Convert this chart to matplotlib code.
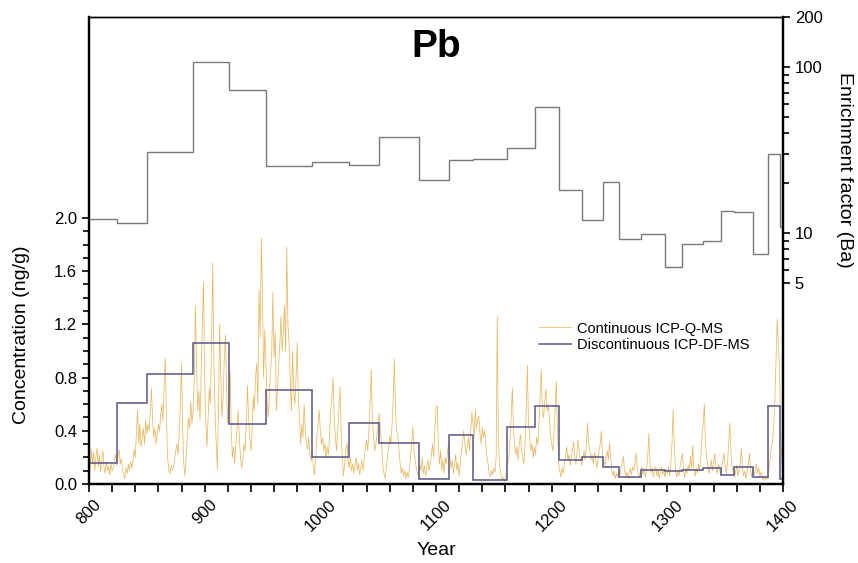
import numpy as np
import matplotlib
matplotlib.use("Agg")
from matplotlib import pyplot as plt
from matplotlib.ticker import FixedLocator, NullFormatter, FixedFormatter

plt.rcParams['font.family'] = ['Liberation Sans', 'DejaVu Sans']

# step boundaries (years) shared by the discrete samples
edges = [800, 824, 850, 890, 921, 953, 993, 1025, 1051, 1085, 1111, 1132, 1161,
         1186, 1206, 1226, 1244, 1258, 1277, 1298, 1313, 1331, 1346, 1358, 1374,
         1387, 1397, 1400]
# enrichment factor (Ba), right log axis
ef = [12.1, 11.5, 30.6, 107.7, 72.6, 25.4, 26.7, 25.8, 37.8, 20.7, 27.4, 27.9,
      32.4, 57.2, 18.2, 11.9, 20.3, 9.25, 9.8, 6.2, 8.6, 8.9, 13.6, 13.3, 7.5,
      29.8, 10.8]
# discontinuous ICP-DF-MS concentration (ng/g)
disc = [0.16, 0.61, 0.83, 1.06, 0.45, 0.71, 0.20, 0.46, 0.31, 0.037, 0.365, 0.03,
        0.43, 0.59, 0.177, 0.20, 0.125, 0.055, 0.105, 0.097, 0.105, 0.12, 0.067,
        0.125, 0.05, 0.59, 0.037]

# continuous ICP-Q-MS concentration, one value per year 800..1400
cont = [
    0.22, 0.12, 0.26, 0.15, 0.24, 0.10, 0.20, 0.27, 0.13, 0.22,
    0.09, 0.18, 0.25, 0.12, 0.08, 0.17, 0.10, 0.13, 0.07, 0.15,
    0.10, 0.12, 0.18, 0.22, 0.14, 0.20, 0.26, 0.15, 0.19, 0.10,
    0.07, 0.04, 0.12, 0.08, 0.15, 0.10, 0.17, 0.12, 0.18, 0.26,
    0.20, 0.38, 0.56, 0.30, 0.45, 0.28, 0.35, 0.42, 0.30, 0.48,
    0.38, 0.45, 0.40, 0.55, 0.72, 0.48, 0.35, 0.42, 0.30, 0.38,
    0.45, 0.40, 0.52, 0.60, 0.48, 0.75, 0.95, 0.50, 0.20, 0.10,
    0.08, 0.14, 0.10, 0.12, 0.18, 0.25, 0.30, 0.22, 0.38, 0.60,
    0.91, 0.40, 0.15, 0.06, 0.20, 0.35, 0.50, 0.42, 0.62, 0.45,
    0.55, 0.80, 1.34, 0.90, 0.55, 0.70, 0.48, 0.85, 1.20, 1.52,
    0.80, 0.45, 0.28, 0.50, 0.72, 0.60, 1.10, 1.66, 0.90, 0.55,
    0.30, 0.11, 0.60, 1.20, 0.80, 0.50, 0.65, 0.95, 1.12, 0.70,
    0.45, 0.60, 0.86, 0.40, 0.20, 0.28, 0.15, 0.30, 0.42, 0.55,
    0.35, 0.20, 0.12, 0.18, 0.30, 0.25, 0.45, 0.74, 0.50, 0.35,
    0.25, 0.40, 0.66, 0.55, 0.80, 0.91, 0.60, 1.46, 1.10, 1.85,
    1.40, 0.80, 1.16, 0.90, 0.60, 0.50, 0.70, 0.85, 1.00, 1.44,
    0.95, 1.14, 0.55, 0.70, 0.90, 1.05, 1.26, 1.00, 1.15, 1.34,
    1.00, 1.78, 1.20, 1.05, 0.80, 0.55, 1.00, 0.70, 0.60, 0.80,
    1.06, 0.65, 0.50, 0.30, 0.45, 0.35, 0.60, 0.40, 0.30, 0.26,
    0.35, 0.22, 0.17, 0.25, 0.12, 0.07, 0.20, 0.35, 0.45, 0.56,
    0.40, 0.30, 0.35, 0.25, 0.30, 0.19, 0.28, 0.22, 0.35, 0.55,
    0.65, 0.80, 0.50, 0.35, 0.25, 0.40, 0.55, 0.73, 0.40, 0.20,
    0.06, 0.15, 0.25, 0.31, 0.18, 0.12, 0.20, 0.10, 0.15, 0.08,
    0.14, 0.20, 0.10, 0.16, 0.07, 0.12, 0.18, 0.10, 0.20, 0.28,
    0.33, 0.25, 0.40, 0.60, 0.86, 0.50, 0.35, 0.25, 0.30, 0.38,
    0.45, 0.53, 0.40, 0.30, 0.15, 0.08, 0.04, 0.12, 0.20, 0.28,
    0.36, 0.30, 0.45, 0.65, 0.94, 0.55, 0.40, 0.36, 0.25, 0.15,
    0.08, 0.12, 0.06, 0.10, 0.04, 0.09, 0.05, 0.12, 0.20, 0.30,
    0.43, 0.25, 0.18, 0.12, 0.08, 0.05, 0.15, 0.10, 0.20, 0.08,
    0.14, 0.06, 0.12, 0.18, 0.10, 0.15, 0.22, 0.30, 0.20, 0.40,
    0.57, 0.59, 0.30, 0.15, 0.25, 0.10, 0.18, 0.08, 0.20, 0.15,
    0.25, 0.31, 0.20, 0.12, 0.18, 0.08, 0.15, 0.22, 0.10, 0.16,
    0.06, 0.15, 0.25, 0.32, 0.40, 0.30, 0.22, 0.29, 0.35, 0.25,
    0.40, 0.54, 0.45, 0.35, 0.56, 0.42, 0.48, 0.51, 0.38, 0.30,
    0.43, 0.35, 0.40, 0.30, 0.21, 0.15, 0.08, 0.06, 0.10, 0.07,
    0.12, 0.09, 0.20, 1.26, 0.30, 0.13, 0.08, 0.03, 0.05, 0.02,
    0.04, 0.10, 0.15, 0.20, 0.35, 0.50, 0.72, 0.40, 0.30, 0.22,
    0.28, 0.18, 0.30, 0.37, 0.25, 0.20, 0.15, 0.30, 0.55, 0.89,
    0.45, 0.35, 0.25, 0.30, 0.20, 0.28, 0.22, 0.35, 0.30, 0.45,
    0.65, 0.86, 0.55, 0.50, 0.62, 0.71, 0.55, 0.60, 0.50, 0.37,
    0.30, 0.25, 0.40, 0.55, 0.77, 0.40, 0.16, 0.10, 0.05, 0.12,
    0.08, 0.15, 0.20, 0.28, 0.18, 0.22, 0.14, 0.20, 0.26, 0.32,
    0.20, 0.15, 0.25, 0.33, 0.22, 0.18, 0.14, 0.20, 0.25, 0.18,
    0.30, 0.46, 0.30, 0.25, 0.18, 0.22, 0.15, 0.24, 0.20, 0.12,
    0.18, 0.25, 0.30, 0.40, 0.22, 0.18, 0.14, 0.20, 0.25, 0.18,
    0.31, 0.20, 0.10, 0.06, 0.10, 0.04, 0.08, 0.05, 0.10, 0.06,
    0.12, 0.15, 0.21, 0.10, 0.06, 0.09, 0.04, 0.08, 0.12, 0.07,
    0.13, 0.10, 0.16, 0.23, 0.12, 0.08, 0.05, 0.10, 0.13, 0.07,
    0.12, 0.05, 0.10, 0.20, 0.38, 0.15, 0.08, 0.12, 0.05, 0.10,
    0.13, 0.06, 0.11, 0.04, 0.09, 0.13, 0.07, 0.11, 0.05, 0.10,
    0.08, 0.13, 0.06, 0.15, 0.30, 0.56, 0.30, 0.12, 0.05, 0.10,
    0.06, 0.13, 0.18, 0.23, 0.10, 0.05, 0.12, 0.08, 0.14, 0.10,
    0.21, 0.12, 0.29, 0.10, 0.06, 0.12, 0.08, 0.15, 0.10, 0.20,
    0.35, 0.45, 0.60, 0.30, 0.20, 0.13, 0.08, 0.12, 0.18, 0.10,
    0.16, 0.23, 0.12, 0.08, 0.15, 0.13, 0.06, 0.12, 0.18, 0.23,
    0.12, 0.08, 0.15, 0.30, 0.46, 0.25, 0.12, 0.10, 0.05, 0.09,
    0.14, 0.06, 0.10, 0.15, 0.27, 0.12, 0.06, 0.10, 0.04, 0.09,
    0.15, 0.23, 0.10, 0.05, 0.12, 0.07, 0.10, 0.15, 0.08, 0.12,
    0.06, 0.09, 0.05, 0.03, 0.06, 0.03, 0.05, 0.04, 0.13, 0.20,
    0.28, 0.31, 0.45, 0.64, 0.95, 1.24, 1.05, 0.88, 0.40, 0.17,
    0.07,
]
years = np.arange(800, 800 + len(cont))

fig = plt.figure(figsize=(8.58, 5.63), dpi=100)
ax1 = fig.add_axes([0.1037, 0.1403, 0.8089, 0.8295])
ax2 = ax1.twinx()

ax1.plot(years, cont, color='#e4a63a', lw=0.55, alpha=0.8, zorder=2,
         label='Continuous ICP-Q-MS')
ax1.stairs(disc, edges, baseline=None, color='#55558a', lw=1.1, zorder=3,
           label='Discontinuous ICP-DF-MS')
ax2.stairs(ef, edges, baseline=None, color='#7d7777', lw=1.0)

ax1.set_xlim(800, 1400)
ax1.set_ylim(0, 3.51)
ax1.set_xticks(np.arange(800, 1401, 100))
ax1.set_xticks(np.arange(800, 1401, 20), minor=True)
ax1.set_yticks([0.0, 0.4, 0.8, 1.2, 1.6, 2.0])
ax1.set_yticklabels(['0.0', '0.4', '0.8', '1.2', '1.6', '2.0'])
ax1.set_yticks(np.arange(0, 2.01, 0.1), minor=True)
for lab in ax1.get_xticklabels():
    lab.set_rotation(45)
ax1.tick_params(axis='both', which='major', labelsize=12, length=5, width=1.2)
ax1.tick_params(axis='both', which='minor', length=4, width=1.2)
ax1.tick_params(axis='x', which='both', length=6)

ax2.set_yscale('log')
ax2.set_ylim(0.307, 200)
ax2.yaxis.set_major_locator(FixedLocator([5, 10, 100, 200]))
ax2.yaxis.set_major_formatter(FixedFormatter(['5', '10', '100', '200']))
ax2.yaxis.set_minor_locator(FixedLocator([6, 7, 8, 9, 20, 30, 40, 50, 60, 70, 80, 90]))
ax2.yaxis.set_minor_formatter(NullFormatter())
ax2.tick_params(axis='y', which='major', labelsize=12, length=5, width=1.2)
ax2.tick_params(axis='y', which='minor', length=4, width=1.2)

for ax in (ax1, ax2):
    for s in ('left', 'bottom', 'right'):
        ax.spines[s].set_linewidth(1.6)
    ax.spines['top'].set_linewidth(1.0)

ax1.set_xlabel('Year', fontsize=14, labelpad=6)
ax1.set_ylabel('Concentration (ng/g)', fontsize=14)
ax1.yaxis.set_label_coords(-0.085, 0.319)
ax2.set_ylabel('Enrichment factor (Ba)', fontsize=14, rotation=270, va='center')
ax2.yaxis.set_label_coords(1.089, 0.672)

ax1.text(0.5, 0.935, 'Pb', transform=ax1.transAxes, ha='center', va='center',
         fontsize=28, fontweight='bold')

ax1.legend(loc='upper left', bbox_to_anchor=(0.63, 0.376), frameon=False,
           fontsize=10.5, handlelength=2.2, handletextpad=0.4, labelspacing=0.2)

fig.savefig('out.png', dpi=100)
